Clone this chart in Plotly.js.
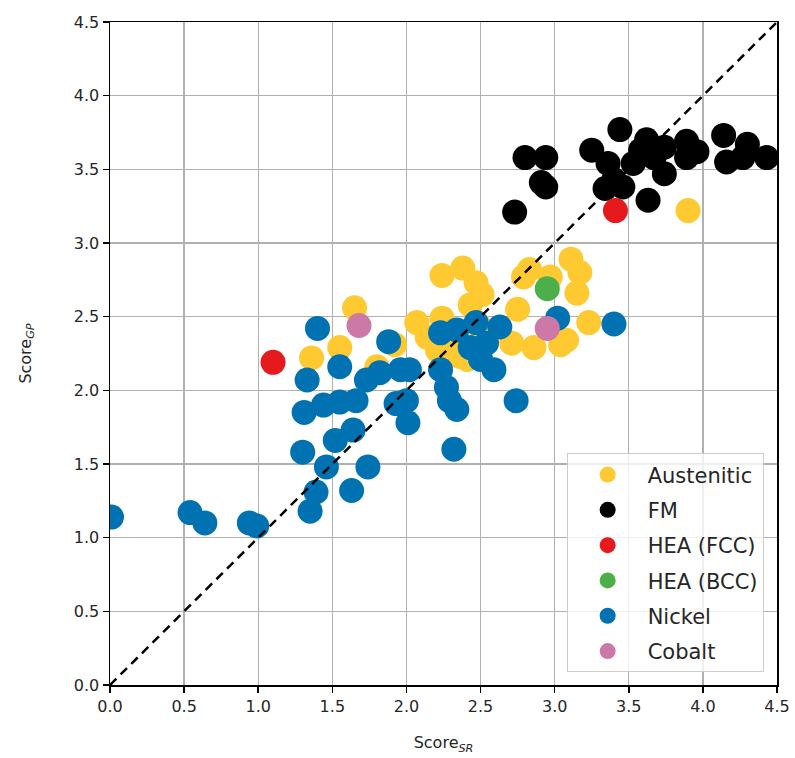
<!DOCTYPE html>
<html>
<head>
<meta charset="utf-8">
<script src="https://cdn.plot.ly/plotly-3.0.1.min.js"></script>
<style>html,body{margin:0;padding:0;background:#fff;}#chart{width:795px;height:758px;}</style>
</head>
<body>
<div id="chart"></div>
<script>
// ---- data ----
const austeniticX = [1.36,1.55,1.65,1.80,1.92,2.07,2.14,2.21,2.24,2.24,2.31,2.36,2.38,2.43,2.47,2.51,2.50,2.41,2.71,2.75,2.79,2.83,2.86,2.97,3.04,3.08,3.11,3.17,3.15,3.23,3.90];
const austeniticY = [2.22,2.29,2.56,2.16,2.31,2.46,2.36,2.27,2.49,2.78,2.33,2.23,2.83,2.58,2.73,2.65,2.43,2.21,2.32,2.55,2.77,2.82,2.29,2.77,2.31,2.34,2.89,2.80,2.66,2.46,3.22];

const fmX = [2.73,2.80,2.94,2.91,2.94,3.25,3.44,3.36,3.34,3.40,3.46,3.53,3.58,3.62,3.63,3.67,3.74,3.74,3.89,3.89,3.96,4.14,4.16,4.27,4.30,4.43];
const fmY = [3.21,3.58,3.58,3.41,3.38,3.63,3.77,3.54,3.37,3.43,3.38,3.54,3.63,3.70,3.29,3.58,3.65,3.47,3.69,3.58,3.62,3.73,3.55,3.58,3.67,3.58];

const heaFccX = [1.10,3.41];
const heaFccY = [2.19,3.22];

const heaBccX = [2.95];
const heaBccY = [2.69];

const nickelX = [0.01,0.54,0.64,0.94,0.99,1.30,1.31,1.33,1.35,1.39,1.40,1.44,1.46,1.52,1.55,1.55,1.63,1.64,1.66,1.73,1.74,1.82,1.88,1.93,1.96,2.00,2.01,2.02,2.23,2.23,2.27,2.29,2.34,2.32,2.34,2.43,2.47,2.50,2.54,2.59,2.63,2.74,3.02,3.40];
const nickelY = [1.14,1.17,1.10,1.10,1.08,1.58,1.85,2.07,1.18,1.31,2.42,1.90,1.48,1.66,2.16,1.92,1.32,1.73,1.93,2.07,1.48,2.12,2.33,1.91,2.14,1.93,1.78,2.14,2.14,2.39,2.02,1.93,1.87,1.60,2.41,2.29,2.46,2.21,2.32,2.14,2.43,1.93,2.49,2.45];

const cobaltX = [1.68,2.95];
const cobaltY = [2.44,2.42];

const diagonal = [0, 4.5];
const tickVals = [0,0.5,1,1.5,2,2.5,3,3.5,4,4.5];
const tickText = ['0.0','0.5','1.0','1.5','2.0','2.5','3.0','3.5','4.0','4.5'];

const seriesNames = ['Austenitic','FM','HEA (FCC)','HEA (BCC)','Nickel','Cobalt'];
const seriesColors = ['#FFC931','#000000','#E41A1C','#4DAF4A','#0072B2','#CC79A7'];
const seriesX = [austeniticX, fmX, heaFccX, heaBccX, nickelX, cobaltX];
const seriesY = [austeniticY, fmY, heaFccY, heaBccY, nickelY, cobaltY];

const traces = [];
seriesNames.forEach((n, i) => {
  traces.push({
    x: seriesX[i], y: seriesY[i], name: n, type: 'scatter', mode: 'markers',
    legendgroup: 'g' + i,
    marker: {color: seriesColors[i], size: 25, line: {width: 0}},
    cliponaxis: true
  });
});
traces.push({
  x: diagonal, y: diagonal, mode: 'lines', type: 'scatter',
  line: {color: '#000', width: 2.5, dash: '9px,6px'},
  showlegend: false, hoverinfo: 'skip'
});

const axisCommon = {
  range: [0, 4.5], tickvals: tickVals, ticktext: tickText,
  showgrid: true, gridcolor: '#b0b0b0', gridwidth: 1.4,
  showline: true, linecolor: '#000', linewidth: 1.5, mirror: true,
  ticks: 'outside', ticklen: 6, tickwidth: 1.5, tickcolor: '#000',
  zeroline: false, fixedrange: true,
  tickfont: {family: 'DejaVu Sans', size: 16, color: '#262626'}
};

const layout = {
  width: 795, height: 758,
  margin: {l: 110, r: 18, t: 22, b: 73},
  paper_bgcolor: '#fff', plot_bgcolor: '#fff',
  xaxis: Object.assign({}, axisCommon, {
    title: {text: 'Score<sub><i>SR</i></sub>', font: {family: 'DejaVu Sans', size: 16, color: '#262626'}, standoff: 22}
  }),
  yaxis: Object.assign({}, axisCommon, {
    title: {text: 'Score<sub><i>GP</i></sub>', font: {family: 'DejaVu Sans', size: 16, color: '#262626'}, standoff: 38}
  }),
  showlegend: true,
  legend: {
    x: 0.98, y: 0.019, xanchor: 'right', yanchor: 'bottom',
    bgcolor: 'rgba(255,255,255,0.8)', bordercolor: '#cccccc', borderwidth: 1,
    font: {family: 'DejaVu Sans', size: 21, color: '#262626'},
    traceorder: 'grouped', tracegroupgap: 5,
    itemsizing: 'trace', itemwidth: 70, entrywidth: 205
  }
};

Plotly.newPlot('chart', traces, layout, {displayModeBar: false, staticPlot: true});
</script>
</body>
</html>
